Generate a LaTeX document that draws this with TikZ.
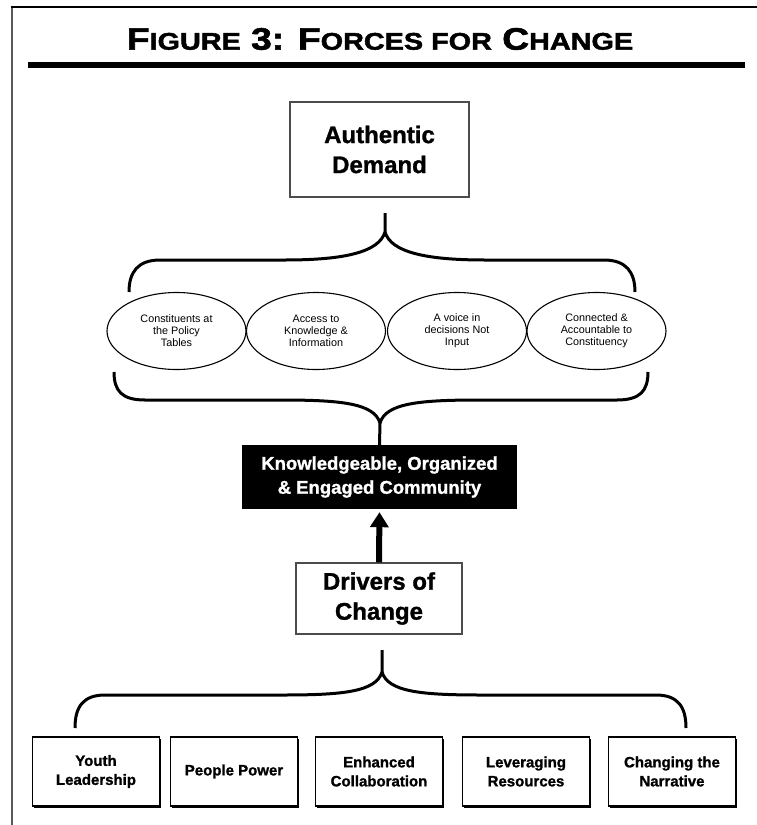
\documentclass[tikz,border=0pt]{standalone}
\usepackage{fontspec}
\usepackage{graphicx}
\setmainfont{Liberation Sans}
\newfontfamily\heavyfont[FakeBold=1.2]{Liberation Sans Bold}
\newfontfamily\titlefont[FakeBold=1.8]{Liberation Sans Bold}
\usetikzlibrary{shapes.geometric,arrows.meta,shadows}

\newcommand{\petit}[1]{{\fontsize{24}{24}\selectfont #1}}

\tikzset{
  topbox/.style={draw=black!70,line width=1.2pt,fill=white,align=center,
    font=\fontsize{24}{30}\selectfont\heavyfont},
  goal/.style={ellipse,draw,line width=1.1pt,minimum width=139pt,minimum height=77pt,
    inner sep=0pt,align=center,font=\fontsize{10.8}{12}\selectfont},
  darkbox/.style={fill=black,text=white,minimum width=275pt,minimum height=64pt,
    align=center,font=\fontsize{18.5}{24}\selectfont\heavyfont},
  driver/.style={draw,line width=1.3pt,fill=white,minimum width=127pt,minimum height=69pt,
    align=center,font=\fontsize{15}{19}\selectfont\heavyfont,
    drop shadow={shadow xshift=1.5pt,shadow yshift=-1.5pt,opacity=1,fill=black}},
  brace/.style={line width=3pt}
}

\begin{document}
\begin{tikzpicture}[x=1pt,y=-1pt]
  \useasboundingbox (0,0) rectangle (757,825);
  % Cadre
  \draw[black!65,line width=2pt] (11.5,7) -- (11.5,825);
  \draw[line width=1.5pt] (10.5,7) -- (757,7);
  % Titre
  \node (titre) at (380,39) {\scalebox{1.2}[1]{\fontsize{31}{31}\selectfont\titlefont
    F\petit{IGURE} 3: F\petit{ORCES FOR} C\petit{HANGE}}};
  \draw[line width=6pt] (28,65) -- (745,65);
  % Boites
  \node[topbox,minimum width=179pt,minimum height=95pt] (demande) at (379.5,149.5) {Authentic\\Demand};
  \foreach \x/\n/\t in {176.5/1/{Constituents at\\the Policy\\Tables},
                        316/2/{Access to\\Knowledge \&\\Information},
                        457/3/{A voice in\\decisions Not\\Input},
                        596.5/4/{Connected \&\\Accountable to\\Constituency}}
    \node[goal] (g\n) at (\x,331) {\t};
  \node[darkbox] (communaute) at (379.5,477) {Knowledgeable, Organized\\\& Engaged Community};
  \node[topbox,minimum width=166pt,minimum height=71pt] (moteurs) at (379,598.5) {Drivers of\\Change};
  \foreach \x/\n/\t in {96/1/{Youth\\Leadership}, 234/2/{People Power},
                        379/3/{Enhanced\\Collaboration}, 526/4/{Leveraging\\Resources},
                        672/5/{Changing the\\Narrative}}
    \node[driver] (d\n) at (\x,771.5) {\t};
  % Fleche
  \draw[line width=6pt,-{Triangle[width=18pt,length=15pt]},shorten >=3pt] (moteurs.north) -- (communaute.south);
  % Accolades
  \coordinate (pointe1) at (385,232);
  \draw[brace] (385,213) -- (pointe1)
    .. controls +(-6,20) and +(60,0) .. (285,260) -- (160,260)
    .. controls (138,260) and (129,272) .. (129,292);
  \draw[brace] (pointe1)
    .. controls +(6,20) and +(-60,0) .. (485,260) -- (604,260)
    .. controls (626,260) and (635,272) .. (635,292);
  \coordinate (pointe2) at (380,423);
  \draw[brace] (114,372) .. controls (114,391) and (122,400) .. (145,400) -- (280,400)
    .. controls +(60,0) and +(-6,-20) .. (pointe2) -- (communaute.north);
  \draw[brace] (648,372) .. controls (648,391) and (640,400) .. (617,400) -- (480,400)
    .. controls +(-60,0) and +(6,-20) .. (pointe2);
  \coordinate (pointe3) at (382,672);
  \draw[brace] (382,650) -- (pointe3)
    .. controls +(-6,20) and +(60,0) .. (282,695) -- (105,695)
    .. controls (83,695) and (75,707) .. (75,728);
  \draw[brace] (pointe3)
    .. controls +(6,20) and +(-60,0) .. (482,695) -- (656,695)
    .. controls (678,695) and (686,707) .. (686,728);
\end{tikzpicture}
\end{document}
